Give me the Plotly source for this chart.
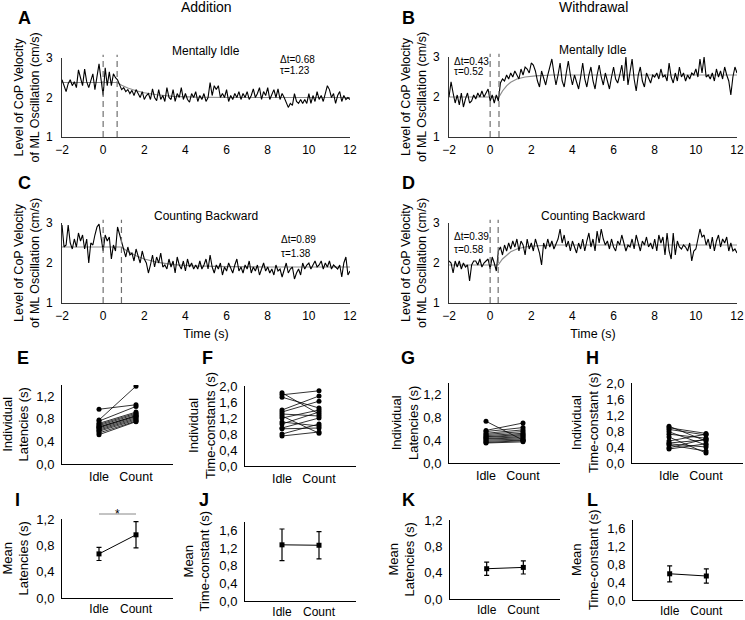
import plotly.graph_objects as go

# ---------------- DATA ----------------
time = [round(-2 + 0.1 * i, 1) for i in range(141)]

add_idle = [2.45, 2.3, 2.15, 2.35, 2.45, 2.3, 2.4, 2.25, 2.7, 2.5,
            2.3, 2.72, 2.4, 2.25, 2.45, 2.6, 2.2, 2.5, 2.85, 2.45,
            2.05, 2.75, 2.3, 2.65, 2.3, 2.6, 2.5, 2.45, 2.3, 2.2,
            2.25, 2.15, 2.2, 2.1, 2.18, 2.05, 2.2, 2.1, 2.0, 2.15,
            1.95, 2.05, 2.1, 1.95, 2.22, 2.0, 1.92, 2.2, 1.95, 2.05,
            1.9, 2.25, 2.0, 1.95, 2.2, 1.9, 2.1, 2.0, 2.25, 1.95,
            2.1, 1.95, 1.88, 2.1, 2.0, 2.15, 1.9, 2.05, 1.95, 2.1,
            1.9, 2.0, 2.38, 2.05, 2.3, 2.2, 2.3, 2.0, 2.1, 2.0,
            2.2, 1.9, 2.05, 1.95, 2.1, 2.0, 2.15, 1.95, 2.1, 2.0,
            2.15, 1.95, 2.05, 2.22, 2.0, 2.1, 2.25, 1.95, 2.15, 2.05,
            2.25, 1.95, 2.1, 2.2, 2.0, 2.22, 1.95, 2.1, 2.0, 1.85,
            1.75, 1.85, 1.8, 2.1, 1.9, 1.85, 1.95, 1.85, 1.95, 1.85,
            2.1, 1.85, 2.05, 1.9, 2.15, 1.95, 2.05, 1.9, 2.1, 2.3,
            2.2, 2.0, 2.1, 1.85, 2.05, 2.15, 1.9, 2.05, 1.95, 2.0,
            1.95]

wd_idle = [2.0, 2.38, 2.1, 1.85, 2.05, 1.8, 2.1, 1.75, 1.95, 2.1,
           1.85, 1.9, 2.05, 1.95, 2.1, 2.0, 2.15, 2.0, 2.1, 2.2,
           1.9, 2.05, 1.85, 2.05, 1.9, 2.35, 2.45, 2.4, 2.55, 2.45,
           2.6, 2.5, 2.65, 2.55, 2.45, 2.7, 2.55, 2.75, 2.7, 2.6,
           2.85, 2.8, 2.65, 2.4, 2.25, 2.65, 2.45, 2.3, 2.55, 2.75,
           2.95, 2.6, 2.3, 2.55, 2.85, 2.4, 2.25, 2.6, 2.9, 2.55,
           2.3, 2.55, 2.4, 2.2, 2.5, 2.85, 2.45, 2.25, 2.55, 2.75,
           2.4, 2.2, 2.55, 2.8, 2.5, 2.3, 2.6, 2.4, 2.2, 2.5,
           2.75, 2.45, 2.35, 2.55, 2.8, 2.4, 3.0, 2.3, 2.65, 2.95,
           2.45, 2.15, 2.55, 2.75, 2.4, 2.25, 2.6, 2.45, 2.35, 2.55,
           2.5, 2.6, 2.45, 2.7, 2.5, 2.55, 2.4, 2.85, 2.5, 2.35,
           2.6, 2.4, 2.75, 2.5, 2.6, 2.4, 2.55, 2.45, 2.6, 2.55,
           2.7, 2.5, 2.95, 2.6, 3.0, 2.5, 2.55, 2.45, 2.6, 2.4,
           2.7, 2.5, 2.65, 2.45, 2.75, 2.55, 2.4, 2.05, 2.5, 2.75,
           2.6]

add_count = [2.95, 2.4, 2.45, 2.95, 2.5, 2.35, 2.6, 2.4, 2.75, 2.55,
             2.7, 2.35, 2.6, 2.0, 2.5, 2.45, 2.7, 2.9, 2.97, 2.6,
             2.3, 2.7, 2.55, 2.65, 2.1, 2.45, 2.3, 2.9, 2.7, 2.55,
             2.3, 2.15, 2.4, 2.2, 2.25, 2.05, 2.35, 2.2, 2.0, 2.3,
             2.1, 2.0, 1.75, 1.95, 2.2, 1.9, 2.15, 2.0, 2.25, 1.9,
             1.95, 1.85, 2.1, 1.9, 2.05, 1.75, 2.15, 1.95, 1.85, 2.05,
             1.8, 2.1, 1.9, 2.0, 1.85, 1.95, 1.85, 2.05, 1.85, 1.95,
             2.1, 1.85, 2.2, 1.9, 1.75, 1.95, 1.85, 2.0, 1.7, 1.9,
             1.8, 2.0, 1.85, 1.75, 1.95, 2.1, 1.8, 1.9, 1.75, 1.95,
             1.85, 2.05, 1.75, 1.9, 1.8, 1.95, 1.7, 1.85, 2.0, 1.8,
             1.9, 1.75, 1.85, 1.7, 1.95, 1.8, 1.85, 1.65, 1.85, 2.0,
             1.75, 1.85, 1.9, 1.6, 1.75, 1.85, 1.7, 2.0, 1.85, 1.95,
             2.0, 1.85, 1.95, 2.05, 1.9, 1.95, 2.05, 1.85, 2.0, 1.9,
             2.05, 1.85, 1.95, 1.9, 1.85, 1.95, 1.65, 2.0, 2.15, 1.7,
             1.8]

wd_count = [2.05, 2.0, 1.75, 2.05, 1.9, 2.05, 1.85, 2.0, 1.9, 1.95,
            1.55, 1.95, 2.05, 2.05, 1.95, 2.1, 1.9, 2.0, 2.05, 2.1,
            1.85, 2.15, 2.0, 1.8, 2.3, 2.4, 2.2, 2.45, 2.3, 2.5,
            2.35, 2.55, 2.4, 2.6, 2.3, 2.55, 2.45, 2.2, 2.6, 2.35,
            2.5, 2.3, 2.6, 2.4, 2.25, 1.95, 2.5, 2.35, 2.6, 2.4,
            2.55, 2.35, 2.5, 2.6, 2.85, 2.5, 2.7, 2.4, 2.55, 2.3,
            2.55, 2.4, 2.25, 2.5, 2.35, 2.6, 2.3, 2.55, 2.75, 2.4,
            2.6, 2.3, 2.8, 2.5, 2.85, 2.6, 2.45, 2.55, 2.35, 2.6,
            2.4, 2.3, 2.55, 2.45, 2.7, 2.5, 2.3, 2.45, 2.4, 2.6,
            2.35, 2.7, 2.5, 2.3, 2.55, 2.45, 2.65, 2.4, 2.5, 2.35,
            2.6, 2.3, 2.7, 2.5, 2.65, 2.2, 2.75, 2.3, 2.1, 2.75,
            2.2, 2.55, 2.4, 2.35, 2.45, 2.4, 2.3, 2.5, 2.05, 2.3,
            2.35, 2.6, 2.85, 2.65, 2.7, 2.45, 2.6, 2.35, 2.65, 2.3,
            2.55, 2.7, 2.4, 2.6, 2.5, 2.65, 2.3, 2.5, 2.3, 2.35,
            2.25]

# exponential fits
fit_add_idle_t = [-2, 0.68, 0.9, 1.2, 1.6, 2.0, 2.6, 3.4, 4.5, 6, 12]
fit_add_idle_y = [2.38, 2.38, 2.31, 2.24, 2.17, 2.12, 2.07, 2.03, 2.01, 2.0, 2.0]
fit_wd_idle_t = [-2, 0.43, 0.6, 0.8, 1.0, 1.3, 1.7, 2.2, 3, 12]
fit_wd_idle_y = [2.0, 2.0, 2.15, 2.28, 2.37, 2.45, 2.5, 2.53, 2.55, 2.55]
fit_add_count_t = [-2, 0.89, 1.2, 1.6, 2.0, 2.6, 3.4, 4.4, 6, 8, 12]
fit_add_count_y = [2.4, 2.4, 2.29, 2.18, 2.1, 2.02, 1.96, 1.93, 1.91, 1.9, 1.9]
fit_wd_count_t = [-2, 0.39, 0.6, 0.8, 1.0, 1.3, 1.7, 2.2, 3, 12]
fit_wd_count_y = [1.95, 1.95, 2.1, 2.2, 2.28, 2.35, 2.4, 2.43, 2.45, 2.45]

latency = {"A": 0.68, "B": 0.43, "C": 0.89, "D": 0.39}
tau = {"A": 1.23, "B": 0.52, "C": 1.38, "D": 0.58}

conditions = ["Idle", "Count"]

e_idle = [0.97, 0.78, 0.76, 0.72, 0.70, 0.68, 0.66, 0.64, 0.62, 0.60, 0.58, 0.55, 0.52, 0.65]
e_count = [1.05, 1.38, 1.02, 0.92, 0.90, 0.88, 0.85, 0.84, 0.82, 0.80, 0.78, 0.76, 0.75, 0.86]
f_idle = [1.83, 1.78, 1.72, 1.40, 1.35, 1.30, 1.20, 1.10, 1.05, 0.95, 0.93, 0.80, 0.75, 1.25]
f_count = [1.30, 1.88, 1.45, 1.75, 1.62, 1.25, 1.40, 1.00, 1.35, 1.20, 0.95, 1.05, 0.85, 0.82]
g_idle = [0.73, 0.57, 0.55, 0.52, 0.50, 0.48, 0.46, 0.45, 0.43, 0.42, 0.40, 0.38, 0.36, 0.35]
g_count = [0.40, 0.70, 0.62, 0.58, 0.55, 0.52, 0.50, 0.48, 0.46, 0.44, 0.42, 0.40, 0.39, 0.37]
h_idle = [0.92, 0.88, 0.84, 0.78, 0.72, 0.65, 0.55, 0.50, 0.48, 0.45, 0.38, 0.35]
h_count = [0.55, 0.74, 0.70, 0.45, 0.62, 0.25, 0.72, 0.58, 0.40, 0.30, 0.60, 0.48]

i_mean = [0.67, 0.96]
i_err = [0.10, 0.20]
j_mean = [1.28, 1.27]
j_err = [0.36, 0.31]
k_mean = [0.46, 0.48]
k_err = [0.10, 0.10]
l_mean = [0.59, 0.54]
l_err = [0.18, 0.16]

lat_ticks = [0, 0.4, 0.8, 1.2]
lat_ticktext = ["0,0", "0,4", "0,8", "1,2"]
tc_ticks = [0, 0.4, 0.8, 1.2, 1.6, 2.0]
tc_ticktext = ["0,0", "0,4", "0,8", "1,2", "1,6", "2,0"]
tcm_ticks = [0, 0.4, 0.8, 1.2, 1.6]
tcm_ticktext = ["0,0", "0,4", "0,8", "1,2", "1,6"]

# ---------------- LAYOUT HELPERS ----------------
W, H = 745, 620
FONT = "Arial, 'Liberation Sans', sans-serif"


def dx(x0, x1):
    return [x0 / W, x1 / W]


def dy(y0, y1):
    return [1 - y1 / H, 1 - y0 / H]


fig = go.Figure()
layout = dict(
    width=W, height=H, margin=dict(l=0, r=0, t=0, b=0, pad=0, autoexpand=False),
    paper_bgcolor="white", plot_bgcolor="white", showlegend=False,
    font=dict(family=FONT, color="black", size=12),
)
annotations = []
shapes = []

ts_panels = [
    # key, data, fit_t, fit_y, xdom, ydom, subtitle, ann pos (x, y_dt, y_tau)
    ("A", add_idle, fit_add_idle_t, fit_add_idle_y, dx(62, 350), dy(58, 137), "Mentally Idle", (8.5, 2.96, 2.68)),
    ("B", wd_idle, fit_wd_idle_t, fit_wd_idle_y, dx(449, 737), dy(57, 137), "Mentally Idle", (-1.85, 2.9, 2.63)),
    ("C", add_count, fit_add_count_t, fit_add_count_y, dx(62, 350), dy(223, 303), "Counting Backward", (8.55, 2.58, 2.25)),
    ("D", wd_count, fit_wd_count_t, fit_wd_count_y, dx(449, 737), dy(223, 303), "Counting Backward", (-1.85, 2.65, 2.34)),
]

for n, (key, vals, ft, fy, xd, yd, sub, ap) in enumerate(ts_panels, start=1):
    xa = f"x{n}" if n > 1 else "x"
    ya = f"y{n}" if n > 1 else "y"
    fig.add_trace(go.Scatter(x=ft, y=fy, mode="lines", xaxis=xa, yaxis=ya,
                             line=dict(color="#8c8c8c", width=1.2), hoverinfo="skip"))
    fig.add_trace(go.Scatter(x=time, y=vals, mode="lines", xaxis=xa, yaxis=ya,
                             line=dict(color="black", width=1.1)))
    layout[f"xaxis{n}"] = dict(domain=xd, anchor=ya, range=[-2, 12], tickvals=list(range(-2, 13, 2)),
                               showline=True, linecolor="#333", linewidth=1, showgrid=False, zeroline=False,
                               ticks="", tickfont=dict(size=12), ticklabelstandoff=2, automargin=False)
    layout[f"yaxis{n}"] = dict(domain=yd, anchor=xa, range=[1, 3], tickvals=[1, 2, 3],
                               showline=True, linecolor="#333", linewidth=1, showgrid=False, zeroline=False,
                               ticks="", tickfont=dict(size=12), ticklabelstandoff=6, automargin=False)
    if key in ("C", "D"):
        layout[f"xaxis{n}"]["title"] = dict(text="Time (s)", font=dict(size=12.5), standoff=6)

    def yp(v, yd=yd):
        return yd[0] + (v - 1) / 2 * (yd[1] - yd[0])

    # dashed onset lines (x in data, y in paper)
    for tv in (0, latency[key]):
        shapes.append(dict(type="line", xref=xa, yref="paper", x0=tv, x1=tv, y0=yd[0], y1=yp(3.08),
                           line=dict(color="#707070", width=1.2, dash="6px,4px")))
    annotations.append(dict(text=sub, x=5.0, y=yp(3.18), xref=xa, yref="paper", showarrow=False,
                            font=dict(size=12), xanchor="center", yanchor="middle"))
    annotations.append(dict(text=f"\u0394t={latency[key]:.2f}", x=ap[0], y=yp(ap[1]), xref=xa, yref="paper",
                            showarrow=False, font=dict(size=10), xanchor="left", yanchor="middle"))
    annotations.append(dict(text=f"\u03c4={tau[key]:.2f}", x=ap[0], y=yp(ap[2]), xref=xa, yref="paper",
                            showarrow=False, font=dict(size=10), xanchor="left", yanchor="middle"))
    # y title
    xc = (xd[0] * W - 35) / W
    annotations.append(dict(text="Level of CoP Velocity<br>of ML Oscillation (cm/s)", textangle=-90,
                            x=xc, y=(yd[0] + yd[1]) / 2, xref="paper", yref="paper", showarrow=False,
                            font=dict(size=12.5), xanchor="center", yanchor="middle"))

small_panels = [
    # key, kind, data1, data2, xdom, ydom, yrange, ticks, ticktext, ytitle, title_x_px
    ("E", "ind", e_idle, e_count, dx(62, 173), dy(385, 464), [0, 1.4], lat_ticks, lat_ticktext, "Individual<br>Latencies (s)", 15),
    ("F", "ind", f_idle, f_count, dx(245, 356), dy(386, 466), [0, 2.0], tc_ticks, tc_ticktext, "Individual<br>Time-constants (s)", 202),
    ("G", "ind", g_idle, g_count, dx(449, 560), dy(383, 463), [0, 1.4], lat_ticks, lat_ticktext, "Individual<br>Latencies (s)", 405),
    ("H", "ind", h_idle, h_count, dx(632, 743), dy(383, 463), [0, 2.0], tc_ticks, tc_ticktext, "Individual<br>Time-constant (s)", 585),
    ("I", "mean", i_mean, i_err, dx(62, 173), dy(519, 598), [0, 1.2], lat_ticks, lat_ticktext, "Mean<br>Latencies (s)", 15),
    ("J", "mean", j_mean, j_err, dx(245, 356), dy(522, 601), [0, 1.8], tcm_ticks, tcm_ticktext, "Mean<br>Time-constant (s)", 196),
    ("K", "mean", k_mean, k_err, dx(450, 560), dy(520, 599), [0, 1.2], lat_ticks, lat_ticktext, "Mean<br>Latencies (s)", 401),
    ("L", "mean", l_mean, l_err, dx(633, 743), dy(520, 600), [0, 1.8], tcm_ticks, tcm_ticktext, "Mean<br>Time-constant (s)", 585),
]

for n, (key, kind, d1, d2, xd, yd, yr, tv, tt, ytitle, tx) in enumerate(small_panels, start=5):
    xa, ya = f"x{n}", f"y{n}"
    bottom_row = kind == "mean"
    if kind == "ind":
        xs, ys = [], []
        for a, b in zip(d1, d2):
            xs += [0, 1, None]
            ys += [a, b, None]
        fig.add_trace(go.Scatter(x=xs, y=ys, mode="lines+markers", xaxis=xa, yaxis=ya,
                                 line=dict(color="black", width=0.8),
                                 marker=dict(color="black", size=5)))
    else:
        fig.add_trace(go.Scatter(x=[0, 1], y=d1, mode="lines+markers", xaxis=xa, yaxis=ya,
                                 line=dict(color="black", width=1),
                                 marker=dict(color="black", size=5, symbol="square"),
                                 error_y=dict(type="data", array=d2, color="black", thickness=1.2, width=2.5)))
    layout[f"xaxis{n}"] = dict(domain=xd, anchor=ya, range=[-1, 2], tickvals=[0, 1], ticktext=conditions,
                               showline=True, linecolor="black", linewidth=1, showgrid=False, zeroline=False,
                               ticks="", tickfont=dict(size=12 if bottom_row else 12.5),
                               ticklabelstandoff=0 if bottom_row else 1, automargin=False)
    layout[f"yaxis{n}"] = dict(domain=yd, anchor=xa, range=yr, tickvals=tv, ticktext=tt,
                               showline=True, linecolor="black", linewidth=1, showgrid=False, zeroline=False,
                               ticks="", tickfont=dict(size=13), ticklabelstandoff=4, automargin=False)
    annotations.append(dict(text=ytitle, textangle=-90, x=tx / W, y=(yd[0] + yd[1]) / 2,
                            xref="paper", yref="paper", showarrow=False, font=dict(size=13),
                            xanchor="center", yanchor="middle"))

# significance bar on panel I
i_dom_y = layout["yaxis9"]["domain"]
bar_y = i_dom_y[1] + 5 / H
shapes.append(dict(type="line", xref="x9", yref="paper", x0=0, x1=1, y0=bar_y, y1=bar_y,
                   line=dict(color="#888", width=1)))
annotations.append(dict(text="*", x=0.5, y=bar_y, xref="x9", yref="paper", showarrow=False,
                        font=dict(size=12), xanchor="center", yanchor="middle"))

# panel letters
letters = [("A", 24, 18), ("B", 408, 18), ("C", 24, 183), ("D", 408, 183),
           ("E", 23, 358), ("F", 207, 358), ("G", 408, 358), ("H", 592, 358),
           ("I", 17, 500), ("J", 204, 500), ("K", 408, 500), ("L", 592, 500)]
for t, px, py in letters:
    annotations.append(dict(text=f"<b>{t}</b>", x=px / W, y=1 - py / H, xref="paper", yref="paper",
                            showarrow=False, font=dict(size=18), xanchor="center", yanchor="middle"))

# column titles
annotations.append(dict(text="Addition", x=206 / W, y=1 - 7 / H, xref="paper", yref="paper",
                        showarrow=False, font=dict(size=14), xanchor="center", yanchor="middle"))
annotations.append(dict(text="Withdrawal", x=593 / W, y=1 - 7 / H, xref="paper", yref="paper",
                        showarrow=False, font=dict(size=14), xanchor="center", yanchor="middle"))

layout["annotations"] = annotations
layout["shapes"] = shapes
fig.update_layout(**layout)
fig.write_html("out.html", config={"displayModeBar": False},
               post_script="document.body.style.margin='0';document.body.style.padding='0';"
                           "document.documentElement.style.overflow='hidden';")
